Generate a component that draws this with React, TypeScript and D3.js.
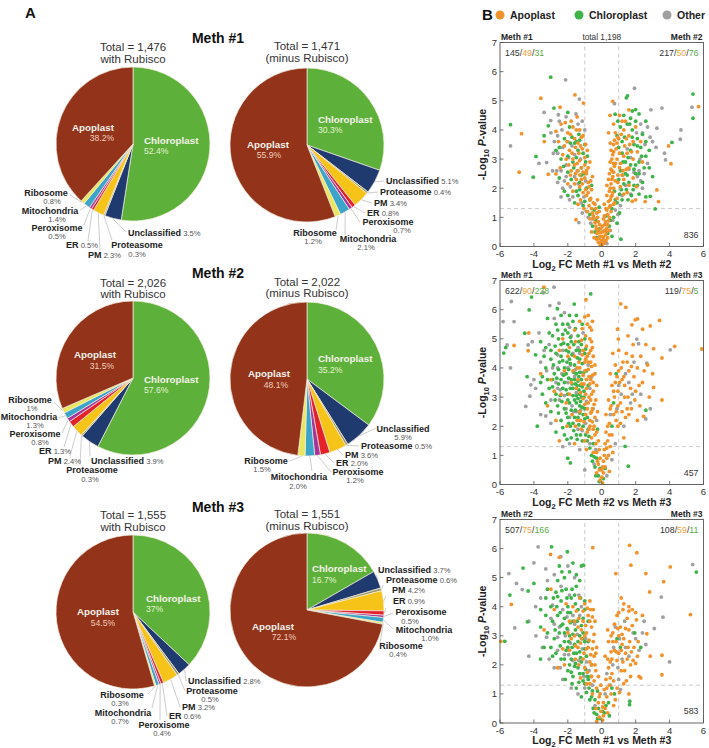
import React from "react";
import * as d3 from "d3";

const FONT = '"Liberation Sans", Arial, Helvetica, sans-serif';

// ---------------- Pie data ----------------
const categories = ["Chloroplast", "Unclassified", "Proteasome", "PM", "ER", "Peroxisome", "Mitochondria", "Ribosome", "Apoplast"];
const meth1With = ["52.4", "3.5", "0.3", "2.3", "0.5", "0.5", "1.4", "0.8", "38.2"];
const meth1Minus = ["30.3", "5.1", "0.4", "3.4", "0.8", "0.7", "2.1", "1.2", "55.9"];
const meth2With = ["57.6", "3.9", "0.3", "2.4", "1.3", "0.8", "1.3", "1", "31.5"];
const meth2Minus = ["35.2", "5.9", "0.5", "3.6", "2.0", "1.2", "2.0", "1.5", "48.1"];
const meth3With = ["37", "2.8", "0.5", "3.2", "0.6", "0.4", "0.7", "0.3", "54.5"];
const meth3Minus = ["16.7", "3.7", "0.6", "4.2", "0.9", "0.5", "1.0", "0.4", "72.1"];
const pieTotals = ["1,476", "1,471", "2,026", "2,022", "1,555", "1,551"];
const pieSubtitles = ["with Rubisco", "(minus Rubisco)", "with Rubisco", "(minus Rubisco)", "with Rubisco", "(minus Rubisco)"];
const methTitles = ["Meth #1", "Meth #2", "Meth #3"];

// ---------------- Volcano data ([log2FC, -log10 P]) ----------------
const v1Apoplast: [number, number][] = [
  [-0.1,0.05],[0.05,0.08],[0.15,0.12],[-0.2,0.15],[0,0.2],[0.1,0.3],[-0.12,0.35],[0.22,0.4],[-0.28,0.45],[0.05,0.5],[-0.05,0.62],[0.3,0.62],[-0.35,0.7],[0.18,0.75],[-0.2,0.85],[0.4,0.88],[-0.45,0.95],[0.1,0.95],[0.25,0.2],[-0.3,0.25],
  [-0.5,1.05],[-0.3,1.15],[0.35,1.1],[0.55,1.2],[-0.6,1.3],[0.45,1.35],[-0.4,1.45],[0.7,1.45],[0.25,1.3],[-1.52,0.92],[-0.85,1.2],
  [-0.7,1.6],[-0.9,1.75],[-1.1,1.85],[-0.6,1.95],[-1.3,2.05],[-0.8,2.2],[-1.0,2.35],[-1.5,2.3],[-1.7,1.9],[-2.0,2.15],[-1.25,1.6],[-0.55,2.4],[0.5,1.6],[0.6,1.75],[0.45,1.9],[0.7,2.0],[0.55,2.15],[0.8,2.25],[0.65,2.4],[0.9,1.65],[1.1,2.05],[1.3,2.3],[1.5,1.85],[1.8,1.55],[2.0,1.6],[2.56,1.54],[3.25,1.94],[3.35,1.54],[0.4,2.3],[0.75,1.5],
  [-0.9,2.6],[-1.2,2.7],[-1.45,2.85],[-1.7,3.0],[-1.0,3.05],[-1.35,3.2],[-0.85,3.3],[-1.9,3.3],[-2.2,3.45],[-1.55,3.4],[-2.45,2.7],[-1.8,2.6],[-2.7,2.49],[-3.15,2.48],[-2.1,3.0],[0.6,2.6],[0.75,2.75],[0.5,2.9],[0.9,3.0],[0.65,3.15],[0.85,3.35],[1.1,2.85],[1.3,3.1],[1.6,2.7],[1.85,3.0],[2.1,3.25],[0.7,3.5],[1.35,3.45],[2.4,2.9],[1.65,3.5],[0.55,3.3],[4.08,2.84],
  [-1.6,3.7],[-2.0,3.9],[-1.3,4.0],[-2.4,4.2],[-1.8,4.3],[-3.39,3.6],[-4.73,3.87],[-1.1,3.8],[-1.45,4.45],[-2.7,3.95],[1.0,3.7],[1.3,4.0],[1.6,3.8],[0.8,3.9],[2.0,4.1],[1.4,4.3],[0.49,4.5],[0.75,3.65],[3.94,3.45],[2.3,3.6],
  [-2.46,4.78],[-1.08,4.92],[-1.58,5.2],[-3.59,5.09],[0.65,4.98],[1.6,4.69],[5.71,4.8],[-4.87,2.55],
  [-0.05,0.15],[0.08,0.18],[-0.15,0.28],[0.12,0.22],[0.02,0.35],[-0.22,0.55],[0.18,0.55],[-0.08,0.48],[0.28,0.5],[-0.32,0.6],[0.35,0.75],[-0.12,0.75],[0.05,0.7],[-0.4,0.82],[0.22,0.85],[-0.25,1.0],[0.45,1.0],[0.15,1.05],[-0.55,1.15],[-0.35,1.3],[0.3,1.25],[0.5,1.4],[-0.5,1.5],[0.4,1.55],[-0.65,1.65],[0.55,1.7],[-0.8,1.85],[0.65,1.85],[0.5,2.0],[0.6,2.3],[0.7,2.55],[0.55,2.65],[0.8,2.85],[0.6,3.0],[0.7,3.25],[0.5,3.55],[0.9,3.55],[0.45,2.5],
  [-0.95,1.95],[-0.75,2.05],[-1.15,2.15],[-0.65,2.25],[-0.9,2.5],[-1.1,2.55],[-1.3,2.45],[-0.8,2.7],[-1.0,2.8],[-1.3,2.95],[-1.15,3.35],[-0.95,3.5],[-1.4,3.55],[-1.75,3.2],[-1.55,2.5],[-1.95,2.8],[-2.3,3.15],[-1.2,3.75],[-1.7,4.1],[-2.15,4.25],
  [1.05,3.2],[1.2,2.45],[1.45,2.65],[0.95,2.2],[1.3,1.8],[1.6,2.1],[1.85,2.35],[2.05,2.05],[1.15,3.85],[1.45,3.7],[1.85,3.6],[0.7,4.2],[1.05,4.5],
  [-0.6,0.5],[-0.45,0.3],[0.35,0.3],[0.45,0.55],[-0.7,0.95],[-0.15,1.2],[0.15,1.45],[-0.25,1.6],[0.3,1.75],[-1.05,1.3],[-0.75,1.4],[-1.4,1.45],[-1.2,2.3],[-1.6,2.15],[-1.85,2.45],[-1.4,2.6],[-0.7,2.9],[-1.6,2.8],[-1.25,3.45],[-2.05,3.6],[-1.85,3.85],[-1.5,4.0],[-2.55,3.6],[0.95,2.45],[1.05,2.7],[1.25,2.6],[0.7,2.85],[0.95,3.75],[1.5,3.2],[1.75,3.25],[1.2,4.3],[0.4,3.9],[0.3,2.1]
];
const v1Chloroplast: [number, number][] = [
  [-0.3,0.3],[0.35,0.45],[-0.55,0.7],[0.45,0.7],[0.7,1.0],[-0.7,1.1],[0.9,0.8],[1.13,0.25],[0.6,0.35],[-0.4,0.5],
  [-1.1,1.4],[-1.6,1.5],[-0.9,2.0],[-1.8,2.3],[-1.3,2.2],[-2.2,1.9],[-0.7,1.6],[-1.5,1.9],[-1.2,2.45],[-2.5,2.35],
  [0.9,1.5],[1.0,2.3],[1.2,1.6],[1.6,2.2],[1.4,2.5],[2.2,1.8],[2.6,1.7],[3.15,1.29],[1.9,2.1],[0.75,1.9],[2.86,1.72],[1.75,1.75],[1.15,1.95],
  [-1.2,2.7],[-1.7,2.9],[-2.0,3.1],[-1.0,3.5],[-1.4,3.3],[-2.4,3.0],[-3.88,3.09],[-4.04,2.38],[-0.95,2.9],[-1.1,3.2],[-1.6,3.55],
  [1.1,2.6],[1.4,2.9],[1.7,3.3],[2.0,2.8],[2.3,3.4],[2.6,3.1],[1.9,3.5],[2.8,2.7],[1.2,3.2],[1.0,3.4],[2.2,2.5],[1.55,3.05],
  [-1.5,3.6],[-2.2,3.7],[-3.15,4.14],[-1.9,4.1],[-5.38,4.18],[-1.35,3.85],
  [1.2,3.6],[1.5,4.2],[1.8,4.0],[2.1,3.7],[1.7,4.4],[0.79,4.54],[1.1,4.1],[0.9,3.8],[2.4,3.85],[4.14,3.57],
  [-2.82,4.75],[-3.01,5.81],[1.52,5.17],[1.8,4.65],[5.38,5.23],[5.38,4.4],[2.0,4.7],[1.45,5.1],
  [-0.15,0.6],[0.25,1.05],[-0.45,1.25],[0.6,1.3],[1.05,1.15],[-1.0,1.55],[-0.6,2.1],[-1.4,1.75],[-2.0,2.55],[-1.65,2.7],[-0.85,3.1],[-1.3,3.65],[-1.75,3.75],[-2.5,3.4],
  [1.3,2.15],[1.55,1.6],[1.85,1.95],[2.4,2.2],[2.0,2.5],[1.7,2.8],[2.35,3.1],[2.1,3.45],[1.35,3.75],[1.65,4.2],[2.0,4.3],[2.6,4.3],[1.3,4.5],[2.2,4.55],[0.95,4.3],[-2.0,4.6],[-3.4,3.8],[-2.7,3.3],
  [-0.35,0.9],[-0.15,1.35],[0.5,0.9],[0.8,1.6],[-1.3,1.95],[-1.05,2.5],[-1.5,3.05],[-1.85,3.55],[-2.25,2.75],[-2.0,1.75],[1.05,1.8],[1.25,2.9],[1.5,2.45],[1.9,2.65],[2.2,2.9],[2.5,2.7],[1.8,3.75],[2.6,3.6],[1.45,1.95],[2.1,2.1],[2.8,3.3],[3.0,2.4]
];
const v1Other: [number, number][] = [
  [-0.35,0.5],[0.3,0.1],[-0.65,0.8],[-0.8,1.0],[0.65,0.9],[0.8,1.25],[-0.9,1.2],[-1.35,0.82],[0.5,0.55],
  [-1.9,1.6],[-2.3,2.0],[-2.1,2.4],[-1.2,1.5],[-1.6,2.4],[-2.4,1.7],[-2.6,2.2],[1.1,1.4],[1.7,1.8],[2.4,2.0],[1.25,2.45],[2.1,2.4],
  [-2.1,2.8],[-2.6,3.2],[-1.45,2.6],[-2.3,3.4],[-3.25,2.88],[-2.9,2.6],[-1.75,3.45],[2.2,2.6],[2.5,2.5],[1.6,2.65],[3.7,3.2],[3.76,2.97],[-1.25,3.0],
  [-2.6,3.8],[-2.8,3.6],[-1.52,4.55],[-3.01,4.32],[-2.1,4.45],[-5.38,3.45],[-1.4,4.2],[-2.35,4.0],[2.4,3.9],[2.7,4.1],[3.25,4.06],[4.67,4.0],[4.63,3.68],
  [-2.56,4.52],[-1.32,5.06],[-2.13,5.72],[0.75,4.9],[1.93,5.43],[2.9,4.69],[3.55,4.75],[5.32,4.78],[-3.7,2.85],
  [-0.55,0.95],[0.95,1.1],[-1.05,1.7],[-1.4,2.15],[-1.85,2.05],[-2.65,2.6],[-1.6,3.15],[-2.0,3.6],[-1.0,4.0],[-2.5,4.3],[1.4,2.1],[1.9,2.55],[2.25,3.0],[1.5,3.35],[2.05,3.9],[2.55,3.5],[2.85,3.75],[3.2,3.4],[-3.0,3.9],[-3.4,4.6],
  [-1.15,1.15],[-1.7,1.7],[-0.95,2.25],[-2.2,2.25],[-2.4,2.6],[-1.95,3.05],[-2.85,3.2],[-1.15,4.3],[1.2,1.75],[2.3,2.25],[2.7,2.85],[1.7,3.05],[2.3,4.2],[3.0,3.6]
];

const v2Apoplast: [number, number][] = [
  [-0.93,6.34],[-3.41,6.77],[-4.34,4.59],[-5.17,4.77],[-0.8,5.8],[-0.7,5.4],[-0.95,5.1],[-0.6,4.9],[-1.1,4.6],[-0.85,4.4],[-0.65,4.2],[-1.3,4.0],[-1.0,3.9],[-0.75,3.7],[-0.5,3.5],[-1.2,3.45],[-0.9,3.3],[-0.6,3.1],[-1.4,3.6],[-1.1,2.95],[-0.8,2.8],[-0.55,2.6],[-1.3,2.5],[-0.95,2.4],[-0.7,2.2],[-0.45,2.0],[-1.2,1.9],[-0.85,1.8],[-0.6,1.6],[-0.35,1.4],[-1.6,1.4],[-0.5,1.1],[-0.25,0.8],[-0.15,0.5],[0,0.25],[0.05,0.05],[-0.1,0.15],[0.1,0.4],
  [-1.7,3.9],[-2.0,4.4],[-1.55,4.9],[-2.3,5.0],[-1.75,2.4],[-2.5,1.5],[-2.05,2.0],[-3.6,3.8],[-4.3,5.2],[-1.6,5.3],[-1.3,5.6],[-1.0,4.2],[-0.75,3.0],[-1.45,2.2],[-0.65,4.6],[-2.8,3.2],[-3.2,2.7],[-1.9,3.1],[-0.4,3.8],[-0.35,2.9],
  [0.2,0.6],[0.3,0.9],[0.15,1.2],[0.4,1.0],[0.35,1.5],[0.5,1.3],[0.25,1.8],[0.6,1.7],[0.45,2.1],[0.7,2.4],[0.55,2.7],[0.85,2.5],[0.75,3.0],[0.95,3.2],[1.1,2.8],[0.8,3.5],[1.2,3.6],[1.0,3.9],[1.35,3.0],[1.5,2.6],[1.7,3.3],[1.25,4.2],[1.6,3.9],[1.9,3.7],[2.1,4.0],[1.45,4.5],[1.8,4.4],[2.2,3.4],[2.4,3.5],[1.95,2.9],[2.25,2.7],[2.47,2.34],[3.06,3.33],[3.55,2.9],
  [1.12,6.2],[1.42,6.08],[1.97,5.65],[2.11,5.68],[1.78,5.48],[2.41,5.33],[2.86,5.44],[3.41,5.63],[3.55,4.34],[3.06,4.66],[4.3,4.74],[5.9,4.65],[0.93,5.33],[0.98,4.99],[0.65,1.1],[1.1,2.1],[1.3,1.6],[2.7,4.1],[0.45,0.45],[1.55,5.1],[2.5,3.9],[1.0,4.6],
  [-0.5,1.9],[-0.7,2.0],[-0.4,2.3],[-0.6,2.5],[-0.85,2.6],[-0.45,2.75],[-0.65,2.9],[-0.95,3.1],[-0.5,3.2],[-0.7,3.45],[-0.9,3.6],[-0.55,3.75],[-0.8,3.95],[-0.6,4.05],[-0.95,4.3],[-0.75,4.5],[-0.5,4.4],[-0.9,4.75],[-0.7,5.0],[-1.15,5.35],[-0.55,5.6],[-0.3,1.1],[-0.2,1.5],[-0.4,1.7],[-0.1,0.9],[0.05,0.6],[-0.3,0.4],[0.1,0.8],
  [0.2,1.4],[0.35,2.0],[0.25,2.4],[0.4,2.9],[0.6,3.4],[0.5,3.8],[0.8,4.1],[0.65,4.5],[1.05,3.5],[1.15,4.0],[1.35,3.4],[1.55,3.0],[1.4,2.3],[1.75,2.6],[1.2,2.5],[0.95,2.0],
  [-1.25,3.15],[-1.5,3.3],[-1.1,3.75],[-1.35,4.2],[-1.15,4.45],[-1.6,4.4],[-1.8,3.5],[-2.2,3.9],[-2.5,4.6],[-1.9,4.7],[-2.1,2.8],[-2.4,3.1],[-1.25,2.2],[-1.55,2.0],[-1.0,1.5],[-0.9,1.2],[-2.7,2.2],[-3.0,3.6],[-1.05,2.15],[-0.3,3.4],[-0.25,2.5],
  [1.85,4.8],[2.3,4.4],[2.6,4.8],[3.0,3.8],[2.8,3.0],[2.1,2.2],
  [-0.8,4.2],[-0.55,4.7],[-0.4,4.1],[-0.85,5.5],[-0.6,5.3],[-1.0,5.75],[-1.2,4.95],[-1.45,4.0],[-1.05,3.45],[-0.65,3.6],[-1.0,2.75],[-0.65,2.45],[-0.55,2.15],[-0.75,1.9],[-0.3,1.8],[-0.15,1.2],[0.0,0.5],[-0.2,0.7],[0.15,1.0],[0.3,1.25],[0.45,1.7],[0.5,2.6],[0.85,2.2],[0.95,2.7],[0.7,3.2],[0.9,3.7],[1.3,3.7],[1.5,4.2],[1.75,4.05],[1.6,2.4],[2.0,3.2]
];
const v2Chloroplast: [number, number][] = [
  [-5.66,4.70],[-5.78,4.51],[-4.54,5.19],[-4.14,6.43],[-4.28,5.99],[-2.62,6.03],[-1.62,6.19],[-0.65,6.54],[-1.85,0.74],[1.38,1.31],[1.57,0.63],[2.6,2.55],
  [-2.9,5.1],[-2.6,5.3],[-2.3,5.5],[-2.0,5.2],[-1.7,5.6],[-1.4,5.1],[-2.4,4.8],[-2.1,4.6],[-1.8,4.9],[-1.5,4.6],[-1.2,4.8],[-2.7,4.5],[-3.0,4.3],[-3.3,4.0],[-2.5,4.2],[-2.2,4.0],[-1.9,4.3],[-1.6,4.1],[-1.3,4.3],[-1.0,4.5],
  [-3.5,3.7],[-2.8,3.8],[-2.4,3.6],[-2.1,3.8],[-1.8,3.6],[-1.5,3.8],[-1.2,3.6],[-0.9,3.9],[-3.1,3.3],[-2.7,3.1],[-2.3,3.3],[-2.0,3.1],[-1.7,3.3],[-1.5,3.05],[-1.35,3.25],[-1.2,3.0],[-1.05,3.2],[-1.6,2.9],[-1.4,2.95],[-1.25,3.4],[-1.55,3.45],[-1.9,2.8],[-2.2,2.6],[-2.6,2.7],[-3.0,2.5],[-1.3,2.7],[-1.0,2.6],
  [-2.4,2.2],[-2.0,2.3],[-1.7,2.1],[-1.4,2.3],[-1.1,2.0],[-2.7,1.8],[-2.2,1.7],[-1.8,1.6],[-1.5,1.7],[-0.8,1.9],[-3.8,2.0],[-3.5,3.1],[-3.6,4.9],[-3.2,5.7],[-0.6,1.0],[-0.4,0.6],[-0.2,0.3],[0.1,0.2],[-0.5,1.4],[-0.3,0.9],[-1.15,1.5],[-2.0,0.9],[0.2,0.55],[-0.25,1.9],[-0.15,0.1],[-4.4,3.7],[-3.9,4.45],[-1.0,5.0],[-0.8,3.4],[0.6,2.0],[0.85,3.8],[0.7,2.8],[-2.9,3.6],[-1.9,5.8],
  [-2.15,5.3],[-1.85,5.05],[-1.55,5.35],[-2.55,5.0],[-2.25,4.85],[-1.95,4.55],[-1.65,4.8],[-1.35,4.9],[-2.75,4.75],[-2.4,4.4],[-2.05,4.2],[-1.75,4.45],[-1.45,4.35],[-1.15,4.15],[-2.85,4.1],[-2.55,3.95],[-2.25,3.75],[-1.95,3.95],[-1.65,3.85],[-1.35,3.7],[-1.05,3.85],
  [-3.2,3.6],[-2.9,3.35],[-2.55,3.45],[-2.2,3.5],[-1.85,3.3],[-1.6,3.6],[-1.45,3.4],[-1.3,3.1],[-1.15,3.35],[-1.7,3.05],[-1.5,2.8],[-1.25,2.85],[-1.05,3.0],[-2.0,2.9],[-2.35,2.85],[-2.75,2.9],[-1.8,2.55],[-1.55,2.55],[-1.3,2.45],[-1.1,2.4],[-2.1,2.45],[-2.55,2.45],[-1.95,2.1],[-1.6,2.3],[-1.35,2.05],[-2.3,1.95],[-1.25,1.7],[-0.95,1.7],[-1.65,1.85],[-0.7,1.25],[-0.55,0.8],[-0.85,1.5],
  [-3.3,2.8],[-3.0,4.6],[-3.4,4.4],[-2.7,5.5],[-2.4,5.8],[-3.1,5.2],[-1.15,5.5],[-0.95,4.65],[-0.85,2.3],
  [-2.3,4.25],[-1.85,4.15],[-1.3,4.6],[-2.0,4.8],[-2.65,3.65],[-1.75,3.45],[-1.4,3.55],[-1.95,3.65],[-2.45,3.05],[-2.1,3.25],[-1.15,2.65],[-1.85,2.0],[-2.05,1.55],[-1.45,1.55],[-1.0,2.25],[-0.75,1.65],[-0.45,0.95],[-0.35,0.3],[-0.1,0.55],[-3.6,3.5],[-3.3,4.7],[-2.3,5.15],[-2.0,5.5],[-1.5,5.8],[-1.3,3.85]
];
const v2Other: [number, number][] = [
  [-5.82,5.59],[-5.33,6.28],[-5.17,5.59],[-5.58,4.79],[-5.38,4.0],[-4.34,4.79],[-4.48,2.68],[-4.24,3.03],[-4.18,3.42],[-3.45,6.58],[-2.82,6.77],[-3.06,6.14],[-2.52,6.22],[-3.9,3.3],[-3.4,4.6],[-3.1,4.8],[-2.8,5.7],[-2.2,5.9],[-1.9,5.4],[-2.6,4.0],[-3.6,2.4],[-3.0,2.1],[-2.5,2.9],[-2.0,3.5],[-1.6,3.7],[-1.3,4.5],[-1.1,5.2],[-0.8,4.1],[-0.7,3.3],[-1.5,2.5],[-0.95,2.1],[-1.9,1.4],[-2.3,1.3],[-1.3,1.2],[-0.7,1.4],[-0.45,0.7],[-1.0,0.5],[-1.7,4.5],[-2.35,3.8],[-3.7,5.2],[-1.25,3.85],[-1.75,2.7],
  [0.3,0.3],[0.5,2.4],[0.8,1.4],[1.0,3.4],[1.4,3.8],[2.07,4.99],[2.17,4.83],[2.66,4.16],[2.86,2.6],[4.04,4.62],[2.6,2.25],[1.7,2.8],[0.6,0.85],
  [-2.45,3.25],[-2.0,4.0],[-1.4,4.7],[-2.6,4.45],[-3.25,3.9],[-1.9,2.3],[-2.2,3.05],[-1.5,3.15],[-0.9,2.85],[-1.15,1.85],[-2.7,3.5],[-3.3,2.35],[-0.6,3.7],[-1.8,5.1],[-2.9,4.0],[-3.6,4.2],[-4.0,3.6],[-4.1,4.9],[0.9,2.6],[1.3,2.0],[1.6,3.5],[2.3,3.1],[1.9,4.2],[-0.35,1.2],
  [-1.85,4.1],[-2.3,4.6],[-1.55,3.95],[-2.1,2.6],[-1.65,2.5],[-1.25,2.55],[-2.6,3.3],[-3.0,2.9],[-1.4,1.9],[-0.5,2.6],[-0.3,2.2],[1.15,3.1],[1.8,3.1]
];

const v3Apoplast: [number, number][] = [
  [-5.95,2.81],[-5.33,4.08],[-3.02,5.8],[-0.53,6.03],[1.64,6.11],[2.07,5.86],[1.72,5.43],[0.83,5.14],[2.6,5.14],[4.04,5.37],[3.65,4.86],[2.82,4.51],[5.23,3.73],[3.55,2.33],[3.55,1.66],[2.86,2.3],[2.66,3.07],
  [-0.5,3.9],[-0.8,3.7],[-1.1,3.5],[-0.6,3.3],[-0.9,3.1],[-1.2,2.9],[-0.5,2.8],[-0.8,2.6],[-1.05,2.4],[-0.45,2.3],[-0.7,2.1],[-1.0,1.9],[-0.35,1.8],[-0.6,1.6],[-0.9,1.35],[-0.3,1.2],[-0.55,1.0],[-0.2,0.7],[-0.05,0.4],[0.05,0.1],[-0.15,0.2],[0.2,0.5],
  [-1.4,3.3],[-1.6,3.0],[-1.9,2.5],[-2.2,2.0],[-2.6,1.9],[-3.4,3.2],[-1.3,4.3],[-1.7,4.0],[-2.1,4.1],[-2.5,5.7],[-3.0,4.6],[-1.55,2.2],[-1.25,1.55],[-0.7,4.2],[-1.4,2.6],
  [0.3,0.9],[0.45,1.3],[0.6,1.7],[0.5,2.1],[0.75,2.5],[0.4,2.8],[0.65,3.1],[0.85,2.8],[1.0,2.4],[1.2,2.7],[1.1,3.3],[0.9,3.7],[1.25,3.9],[1.5,3.6],[1.6,3.2],[1.4,2.4],[1.7,2.0],[1.9,2.6],[2.1,2.3],[2.2,1.6],[1.8,3.9],[2.05,3.55],[2.4,3.7],[1.3,4.1],[0.55,1.0],[0.25,1.5],[0.9,1.2],[1.15,1.8],[2.3,1.55],[1.6,1.0],[0.7,0.6],[0.35,0.35],[1.45,1.45],
  [-0.45,1.45],[-0.7,1.35],[-0.4,2.0],[-0.65,2.35],[-0.9,2.55],[-0.55,2.55],[-0.75,2.85],[-1.0,3.0],[-0.45,3.05],[-0.7,3.5],[-0.95,3.35],[-1.2,3.2],[-0.55,3.65],[-0.85,3.95],[-1.1,3.85],[-1.35,3.6],[-1.6,3.5],[-1.5,3.85],[-1.9,3.5],[-1.25,2.75],[-1.55,2.65],[-1.8,2.9],[-2.0,3.1],[-1.1,2.2],[-1.35,2.0],[-0.85,1.75],
  [-0.15,0.9],[-0.35,0.5],[0.1,0.7],[0.15,1.15],[-0.05,1.3],[0.4,1.9],[0.2,2.3],[0.55,2.45],[0.35,3.2],[0.75,3.4],[1.0,3.0],[0.65,2.8],[0.9,2.15],[1.15,2.5],[1.3,2.9],[1.5,2.2],[1.75,2.45],[1.65,2.8],[2.0,2.05],[0.7,1.45],[1.05,1.05],[1.3,1.35],[0.8,0.8],[1.0,3.8],[1.6,3.85],[1.8,3.35],[-2.3,2.55],[-0.3,2.6],[-2.8,3.9],
  [-0.65,3.9],[-1.0,4.1],[-0.4,3.5],[-0.35,2.4],[-0.6,2.0],[-0.2,1.6],[-0.1,1.0],[0.1,0.25],[-0.3,0.05],[0.05,0.55],[0.3,1.2],[0.5,1.55],[0.35,2.2],[0.6,2.2],[0.85,2.45],[0.55,3.0],[0.95,3.25],[1.2,3.05],[1.4,3.25],[1.25,2.1],[1.55,2.6],[1.85,2.15],[2.15,2.8],[2.0,3.8],[1.15,4.3],[1.6,4.0],[1.35,1.8],[1.7,1.6]
];
const v3Chloroplast: [number, number][] = [
  [-5.72,2.81],[-5.42,4.4],[-4.64,5.33],[-4.34,4.54],[-4.38,3.48],[-2.96,6.06],[-2.03,5.89],[-1.08,5.43],[-3.61,2.2],[5.58,5.19],[1.64,0.63],[1.65,0.75],
  [-3.3,4.3],[-3.0,4.0],[-2.7,4.5],[-2.4,4.2],[-2.1,4.6],[-1.8,4.3],[-1.5,4.7],[-2.9,3.5],[-2.6,3.7],[-2.3,3.4],[-2.0,3.8],[-1.7,3.5],[-1.4,3.9],[-1.1,3.6],[-3.2,3.1],[-2.8,2.9],[-2.5,3.1],[-2.2,2.8],[-1.9,3.0],[-1.6,2.7],[-1.3,3.0],[-1.0,2.8],
  [-2.7,2.4],[-2.4,2.2],[-2.1,2.5],[-1.8,2.2],[-1.5,2.4],[-1.2,2.1],[-0.9,2.3],[-2.0,1.8],[-1.7,1.6],[-1.4,1.9],[-1.1,1.7],[-0.8,1.5],[-1.5,1.2],[-1.2,0.9],[-0.7,0.8],[-0.5,0.5],[-0.3,0.3],[-0.1,0.15],[0.15,0.35],[0.4,0.7],
  [-1.0,4.2],[-1.3,4.9],[-1.9,5.2],[-2.5,5.4],[-2.2,5.0],[-3.6,3.9],[-3.4,2.6],[-0.6,2.0],[-1.2,5.4],[-0.8,3.5],[-4.0,4.8],[0.75,1.0],[0.9,2.9],[2.3,2.6],[1.95,3.1],[-0.25,1.1],[-0.9,1.05],
  [-2.05,4.3],[-1.75,4.6],[-2.35,4.55],[-1.55,4.1],[-1.25,4.3],[-2.65,4.0],[-2.2,3.6],[-1.85,3.8],[-1.55,3.2],[-1.2,3.35],[-2.75,3.2],[-2.4,3.35],[-2.05,3.25],[-1.7,3.05],[-1.4,2.8],[-1.15,2.9],[-2.45,2.65],[-2.0,2.6],[-1.65,2.4],[-1.3,2.45],[-1.0,2.55],[-2.2,2.2],[-1.9,2.0],[-1.6,1.95],[-1.3,1.7],[-0.95,1.85],[-1.75,1.35],[-1.35,1.4],[-1.0,1.35],[-0.75,1.2],[-0.6,0.9],[-0.4,0.8],[-0.2,0.5],[0.05,0.4],
  [-3.0,2.6],[-3.3,3.7],[-2.85,4.3],[-3.6,3.3],[-1.5,5.1],[-2.6,4.9],[-0.8,2.8],[-0.65,1.6],[0.6,1.2],[1.1,2.6],
  [-2.0,4.0],[-1.6,4.4],[-2.45,3.8],[-1.85,3.45],[-1.45,3.5],[-1.1,3.1],[-2.2,3.1],[-1.95,2.8],[-1.75,2.6],[-1.25,2.25],[-1.55,2.05],[-1.8,1.75],[-2.15,1.5],[-1.1,1.45],[-0.85,1.6],[-0.55,1.1],[-0.45,0.35],[-0.25,0.15],[0.25,0.6],[0.45,0.25],[-2.9,2.3],[-3.2,4.6],[-2.35,5.2],[-1.7,5.5],[-1.0,3.9],[-2.6,4.35]
];
const v3Other: [number, number][] = [
  [-5.48,5.14],[-5.13,3.27],[-5.03,4.8],[-4.69,4.59],[-4.0,5.51],[-3.75,6.06],[-2.41,5.72],[-3.88,3.0],[-3.6,4.3],[-3.2,4.9],[-2.8,5.1],[-2.0,5.4],[-1.6,5.0],[-2.4,4.7],[-3.0,3.6],[-2.5,3.3],[-2.0,3.2],[-1.7,3.7],[-1.3,3.7],[-3.5,2.6],[-3.1,2.2],[-2.8,1.9],[-2.3,1.5],[-1.8,1.2],[-1.4,1.0],[-1.0,1.2],[-0.75,1.8],[-1.15,2.55],[-1.85,2.75],[-2.6,2.5],[-0.4,0.6],
  [0.2,1.0],[0.65,2.0],[1.05,2.9],[0.8,3.3],[1.2,2.2],[1.6,2.3],[2.0,2.9],[2.6,2.7],[3.1,3.25],[3.51,4.33],[3.61,3.64],[4.0,2.1],[5.36,5.45],[0.5,1.3],[1.0,1.5],[-2.2,2.35],[-4.3,2.3],
  [-2.3,3.9],[-2.8,3.4],[-1.9,4.4],[-1.2,4.0],[-1.45,3.05],[-2.15,3.0],[-1.7,2.15],[-1.05,1.6],[-2.45,1.9],[-3.25,2.95],[-3.9,4.0],[-4.3,3.5],[-3.3,5.3],[-0.9,2.1],[-0.55,1.3],[1.4,2.6],[1.85,3.1],[2.2,2.5],[0.95,1.9],[1.35,3.5],[2.5,3.5],
  [-1.35,4.4],[-2.05,3.65],[-1.6,3.4],[-2.6,2.95],[-1.95,2.35],[-1.35,2.15],[-0.95,2.9],[-2.9,4.05],[0.3,1.7],[0.7,2.6],[1.1,1.15],[2.4,3.1]
];

const volcanoLeft = ["Meth #1", "Meth #1", "Meth #2"];
const volcanoRight = ["Meth #2", "Meth #3", "Meth #3"];
const volcanoXLabel = [" FC Meth #1 vs Meth #2", " FC Meth #2 vs Meth #3", " FC Meth #1 vs Meth #3"];
const volcanoLeftCounts = [["145", "49", "31"], ["622", "90", "228"], ["507", "75", "166"]];
const volcanoRightCounts = [["217", "50", "76"], ["119", "75", "5"], ["108", "59", "11"]];
const volcanoCenterCount = ["836", "457", "583"];
const volcanoTotal = "total 1,198";
const xTicks = [-6, -4, -2, 0, 2, 4, 6];
const yTicks = [0, 1, 2, 3, 4, 5, 6, 7];
const legendNames = ["Apoplast", "Chloroplast", "Other"];

// ---------------- Styles / layout ----------------
const pieColors = ["#5db13a", "#1f3a6f", "#9a9a70", "#f6c318", "#e5222a", "#a8339a", "#3ca4c8", "#e9e75e", "#92331a"];
const dotColors = ["#f1922b", "#3db34a", "#a0a0a0"];
const textOrange = "#eea23c";
const textGreen = "#57ad3f";

const pieCenters: [number, number][] = [[133, 144], [307, 145], [133, 378], [307, 379], [133, 612], [307, 610]];
const pieTitleY: [number, number][] = [[51, 63], [50, 62], [287, 298], [286, 297], [519, 531], [518, 530]];
const methTitleY = [43, 278, 512];
// [x, y, anchor, px, py, lx, ly]  (px null => inline percentage)
type L = [number, number, string, number | null, number | null, number | null, number | null];
const pieLayouts: L[][] = [
  [[144,144,"s",144,154,null,null],[128,236,"s",null,null,126,232],[137,248,"m",137,257,112,240],[88,258,"s",null,null,100,250],[66,248,"s",null,null,88,241],[57,231,"m",57,239,84,225],[50,214,"m",57,222,80,210],[46,196,"m",52,204,70,195],[93,131,"m",102,141,null,null]],
  [[318,123,"s",318,133,null,null],[386,184,"s",null,null,384,181],[380,195,"s",null,null,378,192],[374,206,"s",null,null,372,203],[367,216,"s",null,null,365,213],[388,225,"m",402,233,360,222],[368,242,"m",366,250,345,235],[315,236,"m",313,244,336,230],[268,148,"m",269,158,null,null]],
  [[144,383,"s",144,393,null,null],[91,464,"s",null,null,90,456],[92,473,"m",90,482,80,465],[48,464,"s",null,null,70,456],[39,454,"s",null,null,64,447],[35,437,"m",40,445,62,433],[29,420,"m",35,428,58,418],[30,403,"m",32,411,54,402],[95,358,"m",102,369,null,null]],
  [[318,362,"s",318,373,null,null],[403,432,"m",403,440,376,428],[361,449,"s",null,null,359,446],[345,458,"s",null,null,343,455],[336,466,"s",null,null,334,463],[358,475,"m",355,483,331,472],[299,480,"m",298,489,312,471],[266,464,"m",262,472,290,461],[269,377,"m",276,388,null,null]],
  [[146,602,"s",146,612,null,null],[188,684,"s",null,null,186,681],[212,694,"m",210,702,185,691],[182,710,"s",null,null,180,707],[169,719,"s",null,null,167,716],[164,728,"m",162,736,160,720],[123,716,"m",120,724,152,708],[122,698,"m",120,706,148,694],[98,615,"m",103,626,null,null]],
  [[312,572,"s",312,583,null,null],[378,573,"s",null,null,376,575],[386,583,"s",null,null,383,585],[392,593,"s",null,null,386,596],[393,604,"s",null,null,386,608],[421,615,"m",410,624,393,613],[424,633,"m",430,641,393,629],[401,649,"m",398,657,380,643],[273,630,"m",284,640,null,null]]
];
const PIE_R = 77;

const volcanoY: [number, number][] = [[246.5, 42.5], [484.5, 280.5], [723, 519.5]];
const X0 = 500, X1 = 703.5;

function Pie({ idx, values }: { idx: number; values: string[] }) {
  const [cx, cy] = pieCenters[idx];
  const nums = values.map(v => +v);
  const arcs = d3.pie<number>().sort(null).value(d => d)(nums);
  const arc = d3.arc<d3.PieArcDatum<number>>().innerRadius(0).outerRadius(PIE_R);
  const layout = pieLayouts[idx];
  return (
    <g>
      <text x={cx} y={pieTitleY[idx][0]} textAnchor="middle" fontSize={11.5} fill="#333">Total = {pieTotals[idx]}</text>
      <text x={cx} y={pieTitleY[idx][1]} textAnchor="middle" fontSize={11.5} fill="#333">{pieSubtitles[idx]}</text>
      <g transform={`translate(${cx},${cy})`}>
        {arcs.map((a, i) => (
          <path key={i} d={arc(a) || ""} fill={pieColors[i]} stroke="#f4ecdc" strokeWidth={0.7} />
        ))}
      </g>
      {arcs.map((a, i) => {
        const [x, y, anc, px, py, lx, ly] = layout[i];
        const mid = (a.startAngle + a.endAngle) / 2;
        const sx = cx + (PIE_R + 0.5) * Math.sin(mid);
        const sy = cy - (PIE_R + 0.5) * Math.cos(mid);
        const anchor = anc === "s" ? "start" : "middle";
        const inner = i === 0 || i === 8;
        if (inner) {
          return (
            <g key={"l" + i}>
              <text x={x} y={y} textAnchor={anchor} fontSize={9.8} fontWeight="bold" fill="#f6f1ea">{categories[i]}</text>
              <text x={px!} y={py!} textAnchor={anchor} fontSize={8.6} fill={i === 0 ? "#e6f2d2" : "#f1cdbb"}>{values[i]}%</text>
            </g>
          );
        }
        return (
          <g key={"l" + i}>
            {lx !== null && <line x1={sx} y1={sy} x2={lx} y2={ly!} stroke="#b8b8b8" strokeWidth={0.7} />}
            {px === null ? (
              <text x={x} y={y} textAnchor={anchor}>
                <tspan fontSize={9} fontWeight="bold" fill="#222">{categories[i]}</tspan>
                <tspan fontSize={7.6} fill="#555"> {values[i]}%</tspan>
              </text>
            ) : (
              <g>
                <text x={x} y={y} textAnchor="middle" fontSize={9} fontWeight="bold" fill="#222">{categories[i]}</text>
                <text x={px} y={py!} textAnchor="middle" fontSize={7.6} fill="#555">{values[i]}%</text>
              </g>
            )}
          </g>
        );
      })}
    </g>
  );
}

function Volcano({ idx, series }: { idx: number; series: [number, number][][] }) {
  const [yb, yt] = volcanoY[idx];
  const x = d3.scaleLinear().domain([-6, 6]).range([X0, X1]);
  const y = d3.scaleLinear().domain([0, 7]).range([yb, yt]);
  const order = [2, 1, 0];
  const lc = volcanoLeftCounts[idx];
  const rc = volcanoRightCounts[idx];
  return (
    <g>
      <line x1={x(-1)} x2={x(-1)} y1={y(0)} y2={y(7)} stroke="#bdbdbd" strokeDasharray="4,3" strokeWidth={0.8} />
      <line x1={x(1)} x2={x(1)} y1={y(0)} y2={y(7)} stroke="#bdbdbd" strokeDasharray="4,3" strokeWidth={0.8} />
      <line x1={x(-6)} x2={x(6)} y1={y(1.3)} y2={y(1.3)} stroke="#bdbdbd" strokeDasharray="4,3" strokeWidth={0.8} />
      {order.map(s => (
        <g key={s}>
          {series[s].map((p, j) => (
            <circle key={j} cx={x(p[0])} cy={y(p[1])} r={1.9} fill={dotColors[s]} />
          ))}
        </g>
      ))}
      <rect x={X0} y={yt} width={X1 - X0} height={yb - yt} fill="none" stroke="#555" strokeWidth={0.9} />
      {xTicks.map(t => (
        <g key={"x" + t}>
          <line x1={x(t)} x2={x(t)} y1={yb} y2={yb - 3.5} stroke="#555" strokeWidth={0.8} />
          <text x={x(t)} y={yb + 10.5} textAnchor="middle" fontSize={9.5} fill="#333">{t}</text>
        </g>
      ))}
      {yTicks.map(t => (
        <g key={"y" + t}>
          <line x1={X0} x2={X0 + 3.5} y1={y(t)} y2={y(t)} stroke="#555" strokeWidth={0.8} />
          <text x={X0 - 3} y={y(t) + 3.5} textAnchor="end" fontSize={9.5} fill="#333">{t}</text>
        </g>
      ))}
      <text x={(X0 + X1) / 2} y={yb + 21} textAnchor="middle" fontSize={10.5} fontWeight="bold" fill="#222">
        Log<tspan fontSize={7.5} dy={3}>2</tspan><tspan dy={-3}>{volcanoXLabel[idx]}</tspan>
      </text>
      <text transform={`translate(${X0 - 14},${(yb + yt) / 2}) rotate(-90)`} textAnchor="middle" fontSize={10.5} fontWeight="bold" fill="#222">
        -Log<tspan fontSize={7.5} dy={3}>10</tspan><tspan dy={-3}> </tspan><tspan fontStyle="italic">P</tspan>-value
      </text>
      <text x={X0 + 1} y={yt - 2.5} fontSize={8.5} fontWeight="bold" fill="#222">{volcanoLeft[idx]}</text>
      <text x={X1 - 1} y={yt - 2.5} textAnchor="end" fontSize={8.5} fontWeight="bold" fill="#222">{volcanoRight[idx]}</text>
      {idx === 0 && <text x={x(0)} y={yt - 3} textAnchor="middle" fontSize={8.3} fill="#333">{volcanoTotal}</text>}
      <text x={X0 + 5} y={yt + 13.5} fontSize={8.8} fill="#333">
        {lc[0]}/<tspan fill={textOrange}>{lc[1]}</tspan>/<tspan fill={textGreen}>{lc[2]}</tspan>
      </text>
      <text x={X1 - 5} y={yt + 13.5} textAnchor="end" fontSize={8.8} fill="#333">
        {rc[0]}/<tspan fill={textOrange}>{rc[1]}</tspan>/<tspan fill={textGreen}>{rc[2]}</tspan>
      </text>
      <text x={X1 - 5} y={yb - 9} textAnchor="end" fontSize={8.8} fill="#333">{volcanoCenterCount[idx]}</text>
    </g>
  );
}

export default function App() {
  const pies = [meth1With, meth1Minus, meth2With, meth2Minus, meth3With, meth3Minus];
  const vols = [
    [v1Apoplast, v1Chloroplast, v1Other],
    [v2Apoplast, v2Chloroplast, v2Other],
    [v3Apoplast, v3Chloroplast, v3Other]
  ];
  const legendX = [500, 579, 667];
  return (
    <svg width={709} height={748} style={{ position: "absolute", left: 0, top: 0, fontFamily: FONT, background: "#fff" }}>
      <rect width={709} height={748} fill="#fff" />
      <text x={25} y={18} fontSize={15} fontWeight="bold" fill="#111">A</text>
      <text x={482} y={20} fontSize={15} fontWeight="bold" fill="#111">B</text>
      {methTitles.map((t, i) => (
        <text key={t} x={218} y={methTitleY[i]} textAnchor="middle" fontSize={14} fontWeight="bold" fill="#111">{t}</text>
      ))}
      {pies.map((p, i) => <Pie key={i} idx={i} values={p} />)}
      {legendNames.map((n, i) => (
        <g key={n}>
          <circle cx={legendX[i]} cy={15} r={4.5} fill={dotColors[i]} />
          <text x={legendX[i] + 10} y={19} fontSize={10.5} fontWeight="bold" fill="#222">{n}</text>
        </g>
      ))}
      {vols.map((v, i) => <Volcano key={i} idx={i} series={v} />)}
    </svg>
  );
}
